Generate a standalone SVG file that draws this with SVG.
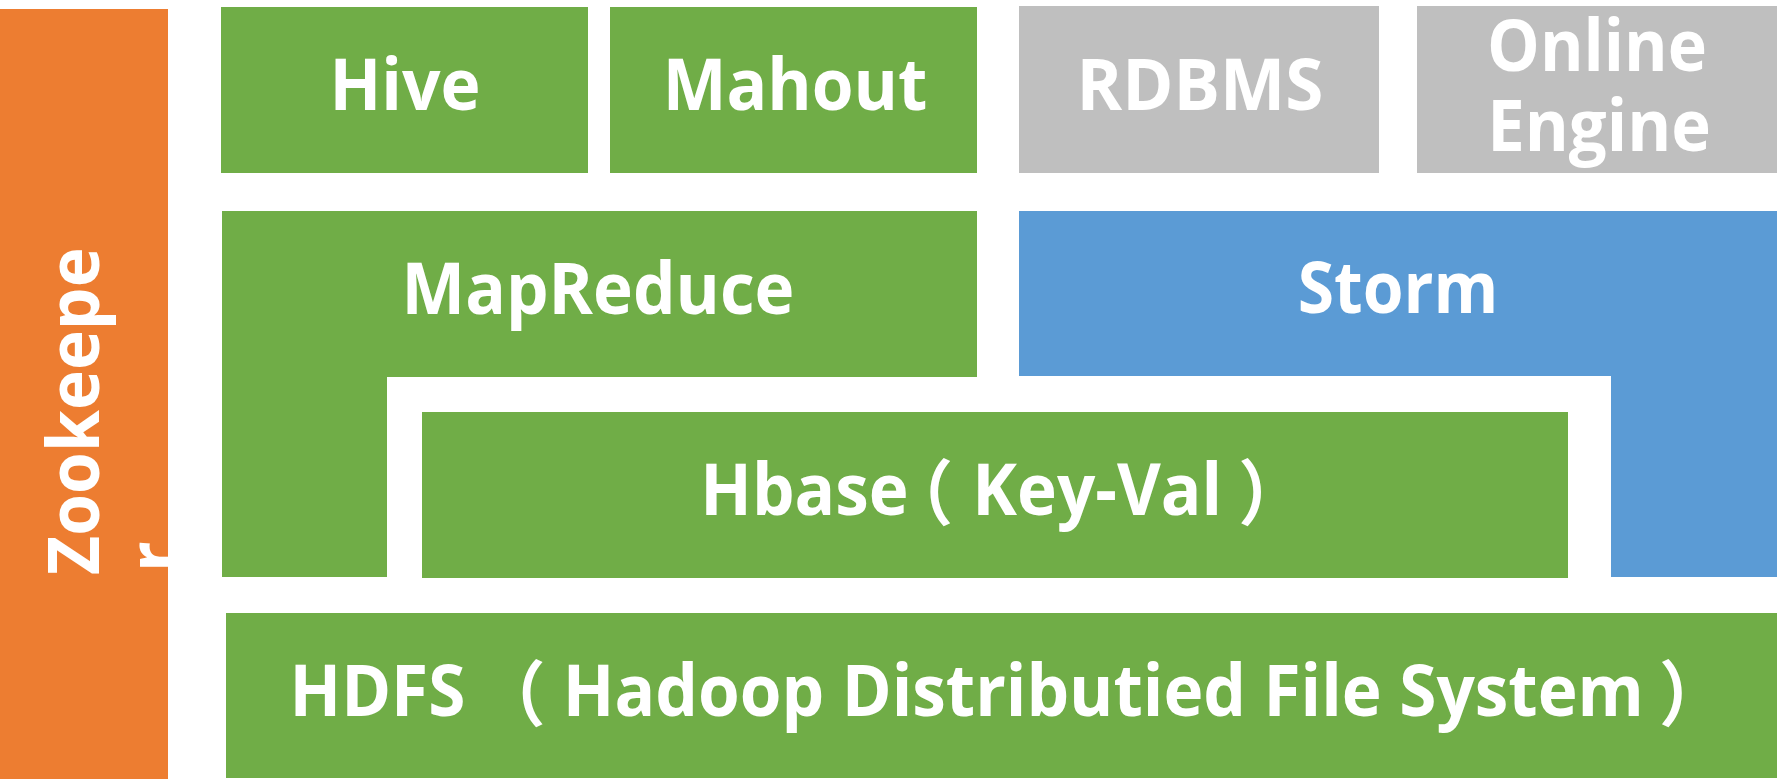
<svg xmlns="http://www.w3.org/2000/svg" width="1779" height="780" viewBox="0 0 1779 780">
<style>
.g{fill:#70AD47}
.o{fill:#ED7D31}
.gr{fill:#BFBFBF}
.b{fill:#5B9BD5}
text{font-family:"Open Sans","Noto Sans","Noto Sans CJK SC",sans-serif;font-weight:bold;font-size:71px;fill:#FFFFFF;text-anchor:middle}
.fw{font-family:"Noto Sans CJK SC",sans-serif;font-weight:bold}
.st{text-anchor:start}
</style>
<rect width="1779" height="780" fill="#FFFFFF"/>
<g id="zookeeper">
<rect class="o" x="0" y="9" width="168" height="770"/>
<text class="st" transform="translate(99,575) rotate(-90) scale(0.953,1)">Zookeepe</text>
<text class="st" transform="translate(179,572) rotate(-90) scale(0.953,1)">r</text>
</g>
<g id="hive">
<rect class="g" x="221" y="7" width="367" height="166"/>
<text transform="translate(405,110) scale(0.954,1)">Hive</text>
</g>
<g id="mahout">
<rect class="g" x="610" y="7" width="367" height="166"/>
<text transform="translate(795,110) scale(0.952,1)">Mahout</text>
</g>
<g id="rdbms">
<rect class="gr" x="1019" y="6" width="360" height="167"/>
<text transform="translate(1200,110) scale(0.975,1)">RDBMS</text>
</g>
<g id="online-engine">
<rect class="gr" x="1417" y="6" width="360" height="167"/>
<text transform="translate(1597,71) scale(0.935,1)">Online</text>
<text transform="translate(1599,151) scale(0.945,1)">Engine</text>
</g>
<g id="mapreduce">
<path class="g" d="M222 211H977V377H387V577H222Z"/>
<text transform="translate(598,314) scale(0.95,1)">MapReduce</text>
</g>
<g id="storm">
<path class="b" d="M1019 211H1777V577H1611V376H1019Z"/>
<text transform="translate(1398,313) scale(0.93,1)">Storm</text>
</g>
<g id="hbase">
<rect class="g" x="422" y="412" width="1146" height="166"/>
<text transform="translate(1003,515) scale(0.95,1)">Hbase<tspan class="fw" dx="-24" dy="4">（</tspan><tspan dx="20" dy="-4">Key-Val</tspan><tspan class="fw" dx="17" dy="4">）</tspan></text>
</g>
<g id="hdfs">
<rect class="g" x="226" y="613" width="1551" height="165"/>
<text transform="translate(1008,716) scale(0.951,1)">HDFS <tspan class="fw" dx="-5" dy="4">（</tspan><tspan dx="18" dy="-4">Hadoop Distributied File System</tspan><tspan class="fw" dx="16" dy="4">）</tspan></text>
</g>
<g id="connectors"></g>
</svg>
